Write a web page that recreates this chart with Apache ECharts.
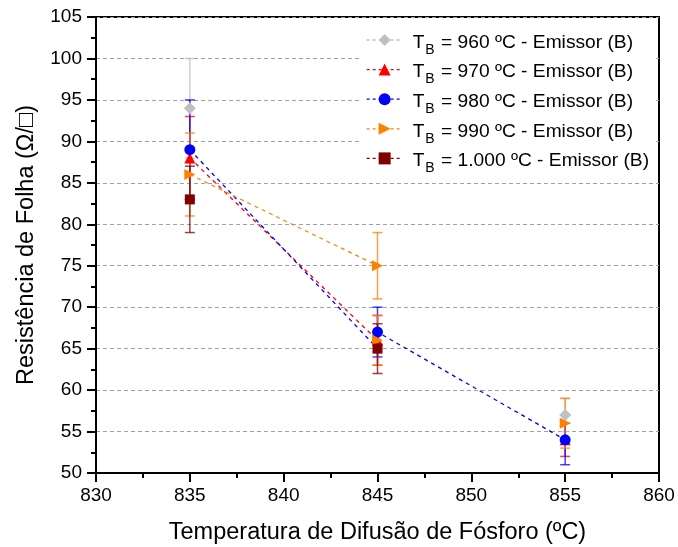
<!DOCTYPE html>
<html>
<head>
<meta charset="utf-8">
<script src="https://cdn.jsdelivr.net/npm/echarts@6/dist/echarts.min.js"></script>
<style>
  html, body { margin: 0; padding: 0; background: #fff; }
  #chart { width: 678px; height: 547px; }
</style>
</head>
<body>
<div id="chart"></div>
<script>
// ---- Data ----
const seriesLabels = ['960', '970', '980', '990', '1.000'];
const seriesColors = ['#c0c0c0', '#ff0000', '#0000ff', '#ff8000', '#800000'];

// points: x (temperature), y (sheet resistance), error (±)
const t960X = [835, 855];
const t960Y = [94, 57];
const t960Err = [6, 2];

const t970X = [835, 845, 855];
const t970Y = [88, 66, 54];
const t970Err = [5, 3, 2];

const t980X = [835, 845, 855];
const t980Y = [89, 67, 54];
const t980Err = [6, 3, 3];

const t990X = [835, 845, 845, 855];
const t990Y = [86, 75, 66, 56];
const t990Err = [5, 4, 3, 3];

const t1000X = [835, 845];
const t1000Y = [83, 65];
const t1000Err = [4, 3];

// dashed connecting paths visible in the figure
const path970X = [835, 845];
const path970Y = [88, 66];
const path980X = [835, 845, 845, 855];
const path980Y = [89, 65, 67, 54];
const path990X = [835, 845];
const path990Y = [86, 75];

// axis ticks
const xMin = 830, xMax = 860, xStep = 5;
const yMin = 50, yMax = 105, yStep = 5;

// ---- Build ----
const groups = [
  { x: t960X, y: t960Y, e: t960Err, symbol: 'diamond', size: [12, 12], rot: 0 },
  { x: t970X, y: t970Y, e: t970Err, symbol: 'triangle', size: 11, rot: 0 },
  { x: t980X, y: t980Y, e: t980Err, symbol: 'circle', size: 11, rot: 0 },
  { x: t990X, y: t990Y, e: t990Err, symbol: 'triangle', size: 11, rot: -90 },
  { x: t1000X, y: t1000Y, e: t1000Err, symbol: 'rect', size: 10, rot: 0 }
];
const paths = [
  null,
  { x: path970X, y: path970Y },
  { x: path980X, y: path980Y },
  { x: path990X, y: path990Y },
  null
];

const series = [];
// dashed lines first (underneath)
paths.forEach((p, i) => {
  if (!p) return;
  series.push({
    type: 'line',
    name: 'path' + i,
    data: p.x.map((v, k) => [v, p.y[k]]),
    showSymbol: false,
    symbol: 'none',
    lineStyle: { color: seriesColors[i], width: 1.3, type: [4, 4] },
    silent: true,
    animation: false,
    z: 2
  });
});

groups.forEach((g, i) => {
  const col = seriesColors[i];
  series.push({
    type: 'custom',
    name: 'err' + i,
    data: g.x.map((v, k) => [v, g.y[k] - g.e[k], g.y[k] + g.e[k]]),
    encode: { x: 0, y: [1, 2] },
    renderItem: function (params, api) {
      const x = api.value(0), lo = api.value(1), hi = api.value(2);
      const a = api.coord([x, lo]), b = api.coord([x, hi]);
      const w = 5;
      const st = { stroke: col, lineWidth: 1.5, opacity: 0.75 };
      return {
        type: 'group',
        children: [
          { type: 'line', shape: { x1: a[0], y1: a[1], x2: b[0], y2: b[1] }, style: st },
          { type: 'line', shape: { x1: a[0] - w, y1: a[1], x2: a[0] + w, y2: a[1] }, style: st },
          { type: 'line', shape: { x1: b[0] - w, y1: b[1], x2: b[0] + w, y2: b[1] }, style: st }
        ]
      };
    },
    silent: true,
    animation: false,
    z: 3
  });
  series.push({
    type: 'line',
    name: seriesLabels[i],
    data: g.x.map((v, k) => [v, g.y[k]]),
    symbol: g.symbol,
    symbolSize: g.size,
    symbolRotate: g.rot,
    showSymbol: true,
    showAllSymbol: true,
    itemStyle: { color: col, opacity: 1 },
    lineStyle: { color: col, width: 1.3, type: [4, 4], opacity: 0 },
    animation: false,
    z: 3
  });
});

const chart = echarts.init(document.getElementById('chart'), null, { renderer: 'canvas' });
const font = 'Liberation Sans, Arial, sans-serif';

chart.setOption({
  backgroundColor: '#fff',
  animation: false,
  textStyle: { fontFamily: font, color: '#000' },
  grid: {
    left: 96, right: 19, top: 17, bottom: 74,
    outerBoundsMode: 'none',
    containLabel: false,
    show: true, borderColor: '#000', borderWidth: 2, backgroundColor: 'transparent'
  },
  legend: {
    data: seriesLabels,
    orient: 'vertical',
    left: 362,
    top: 30,
    padding: [3, 4, 3, 4],
    backgroundColor: '#fff',
    itemWidth: 36,
    itemHeight: 15,
    itemGap: 5.6,
    lineStyle: { opacity: 1, width: 1.3, type: [3, 3] },
    itemStyle: { opacity: 1 },
    formatter: function (name) {
      return '{t|T}{s|B}{t| = ' + name + ' ºC - Emissor (B)}';
    },
    textStyle: {
      fontFamily: font,
      color: '#000',
      padding: [6, 0, 0, 5],
      rich: {
        t: { fontSize: 19.2, fontFamily: font, color: '#000', lineHeight: 20, verticalAlign: 'top' },
        s: { fontSize: 14, fontFamily: font, color: '#000', lineHeight: 14, padding: [10, 1, 0, 1], verticalAlign: 'top' }
      }
    }
  },
  xAxis: {
    type: 'value',
    min: xMin, max: xMax, interval: xStep,
    name: 'Temperatura de Difusão de Fósforo (ºC)',
    nameLocation: 'middle',
    nameGap: 48,
    nameTextStyle: { fontSize: 23.5, fontFamily: font, color: '#000' },
    axisLine: { show: true, onZero: false, lineStyle: { color: '#000', width: 2 } },
    axisTick: { show: true, inside: false, length: 9, lineStyle: { color: '#000', width: 2 } },
    minorTick: { show: true, splitNumber: 2, length: 5, lineStyle: { color: '#000', width: 2 } },
    axisLabel: { fontSize: 19, fontFamily: font, color: '#000', margin: 13 },
    splitLine: { show: false }
  },
  yAxis: {
    type: 'value',
    min: yMin, max: yMax, interval: yStep,
    name: 'Resistência de Folha (Ω/□)',
    nameLocation: 'middle',
    nameGap: 57,
    nameTextStyle: { fontSize: 23.5, fontFamily: font, color: '#000' },
    axisLine: { show: true, onZero: false, lineStyle: { color: '#000', width: 2 } },
    axisTick: { show: true, inside: false, length: 9, lineStyle: { color: '#000', width: 2 } },
    minorTick: { show: true, splitNumber: 2, length: 5, lineStyle: { color: '#000', width: 2 } },
    axisLabel: { fontSize: 19, fontFamily: font, color: '#000', margin: 14 },
    splitLine: { show: true, lineStyle: { color: '#a0a0a0', width: 1.2, type: [4, 3] } }
  },
  series: series
});
</script>
</body>
</html>
